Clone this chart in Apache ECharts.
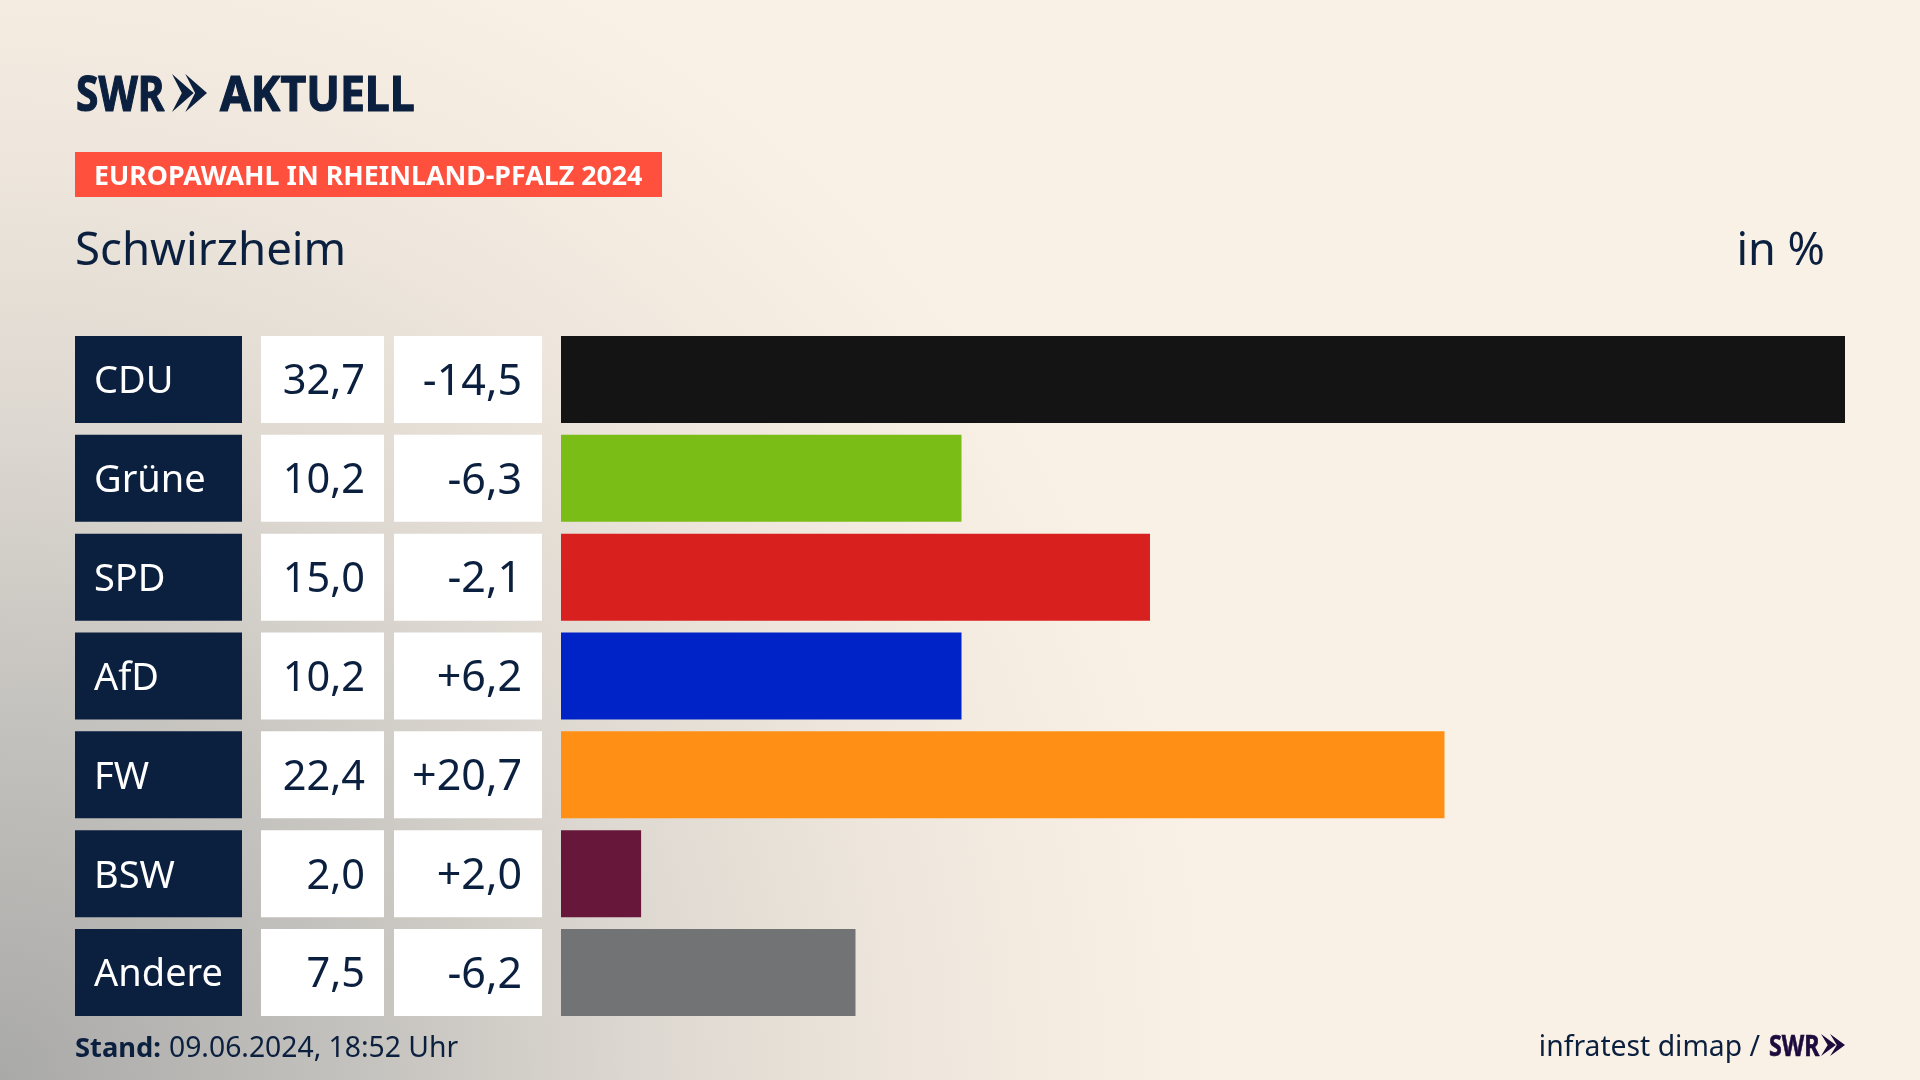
<!DOCTYPE html>
<html lang="de">
<head>
<meta charset="utf-8">
<title>Europawahl Schwirzheim</title>
<script src="https://cdn.jsdelivr.net/npm/echarts@6/dist/echarts.min.js"></script>
<style>
    html, body { margin: 0; padding: 0; background: #faf1e6; }
    #chart {
        width: 1920px;
        height: 1080px;
        background:
            radial-gradient(ellipse 1220px 1240px at 0% 100%,
                #a9a9a8 0%, #c3c1bd 28%, #dcd7d0 52%, #eee6dc 74%, #faf1e6 100%);
    }
</style>
</head>
<body>
<div id="chart"></div>
<script>
// Daten
var parties = ['CDU', 'Grüne', 'SPD', 'AfD', 'FW', 'BSW', 'Andere'];
var shares = [32.7, 10.2, 15.0, 10.2, 22.4, 2.0, 7.5];
var changes = [-14.5, -6.3, -2.1, 6.2, 20.7, 2.0, -6.2];
// Balkenlaengen (ungerundet etwas anders als die Beschriftung)
var barLengths = [32.7, 10.2, 15.0, 10.2, 22.5, 2.04, 7.5];
var partyColors = ['#141414', '#7abd17', '#d8201f', '#0023c8', '#ff9015', '#66173a', '#727374'];

var NAVY = '#0b1f3f';
var FONT = '"Noto Sans", sans-serif';
var ROW_TOP = 330;
var ROWS_HEIGHT = 692;
var BAR_HEIGHT = 87;

function formatShare(v) {
    return v.toFixed(1).replace('.', ',');
}

function formatChange(v) {
    return (v > 0 ? '+' : '') + formatShare(v);
}

// Spalten: Partei, Ergebnis, Differenz, Balken
var columns = [
    { left: 75, width: 167 },
    { left: 261, width: 123 },
    { left: 394, width: 148 },
    { left: 561, width: 1284 }
];

var grids = [];
var xAxes = [];
var yAxes = [];
columns.forEach(function (col, i) {
    grids.push({ left: col.left, width: col.width, top: ROW_TOP, height: ROWS_HEIGHT });
    xAxes.push({ gridIndex: i, type: 'value', min: 0, max: i == 3 ? 32.7 : 1, show: false });
    yAxes.push({ gridIndex: i, type: 'category', data: parties, inverse: true, show: false });
});

// Tabellenzelle als volle Balkenbreite mit Text
function cellSeries(index, color, textColor, position, fontSize, distance, texts) {
    return {
        type: 'bar',
        xAxisIndex: index,
        yAxisIndex: index,
        barWidth: BAR_HEIGHT,
        silent: true,
        animation: false,
        itemStyle: { color: color },
        label: {
            show: true,
            position: position,
            distance: distance,
            offset: [0, 3],
            color: textColor,
            fontFamily: FONT,
            fontSize: fontSize,
            formatter: function (p) { return texts[p.dataIndex]; }
        },
        data: parties.map(function () { return 1; })
    };
}

// y ist die Grundlinie des Textes
function headText(text, x, y, size, weight, color, align, scaleX, strokeWidth) {
    return {
        type: 'text',
        x: x,
        y: y - size * 0.76,
        scaleX: scaleX || 1,
        style: {
            text: text,
            x: 0,
            y: 0,
            fill: color,
            stroke: strokeWidth ? color : null,
            lineWidth: strokeWidth || 0,
            font: weight + ' ' + size + 'px ' + FONT,
            textAlign: align || 'left'
        }
    };
}

function chevrons(x, y, w, h, color) {
    var notch = w * 0.28;
    var one = w * 0.62;
    return [0, w - one].map(function (dx) {
        return {
            type: 'polygon',
            shape: {
                points: [
                    [x + dx, y],
                    [x + dx + one, y + h / 2],
                    [x + dx, y + h],
                    [x + dx + notch, y + h / 2]
                ]
            },
            style: { fill: color }
        };
    });
}

var chart = echarts.init(document.getElementById('chart'));

chart.setOption({
    backgroundColor: 'transparent',
    animation: false,
    grid: grids,
    xAxis: xAxes,
    yAxis: yAxes,
    graphic: [
        headText('SWR', 76, 110, 49, 'bold', NAVY, 'left', 0.83, 1.2),
        headText('AKTUELL', 220, 110, 49, 'bold', NAVY, 'left', 0.91, 1.2),
        { type: 'rect', shape: { x: 75, y: 152, width: 587, height: 45 }, style: { fill: '#ff4f3d' } },
        headText('EUROPAWAHL IN RHEINLAND-PFALZ 2024', 94, 184, 26, 'bold', '#ffffff', 'left', 1.03),
        headText('Schwirzheim', 75, 264, 45.6, 'normal', NAVY),
        headText('in %', 1825, 264, 45, 'normal', NAVY, 'right'),
        headText('Stand:', 75, 1056, 27.3, 'bold', NAVY),
        headText('09.06.2024, 18:52 Uhr', 169, 1056, 28.3, 'normal', NAVY),
        headText('infratest dimap /', 1760, 1055, 28.3, 'normal', NAVY, 'right'),
        headText('SWR', 1769, 1055, 28, 'bold', '#1d0b3e', 'left', 0.83, 0.6)
    ].concat(chevrons(172, 74, 35, 38, NAVY), chevrons(1821, 1034, 24, 22, '#1d0b3e')),
    series: [
        cellSeries(0, NAVY, '#ffffff', 'insideLeft', 38, 19, parties),
        cellSeries(1, '#ffffff', NAVY, 'insideRight', 41.5, 19, shares.map(formatShare)),
        cellSeries(2, '#ffffff', NAVY, 'insideRight', 43, 20, changes.map(formatChange)),
        {
            type: 'bar',
            xAxisIndex: 3,
            yAxisIndex: 3,
            barWidth: BAR_HEIGHT,
            silent: true,
            animation: false,
            data: barLengths.map(function (v, i) {
                return { value: v, itemStyle: { color: partyColors[i] } };
            })
        }
    ]
});
</script>
</body>
</html>
